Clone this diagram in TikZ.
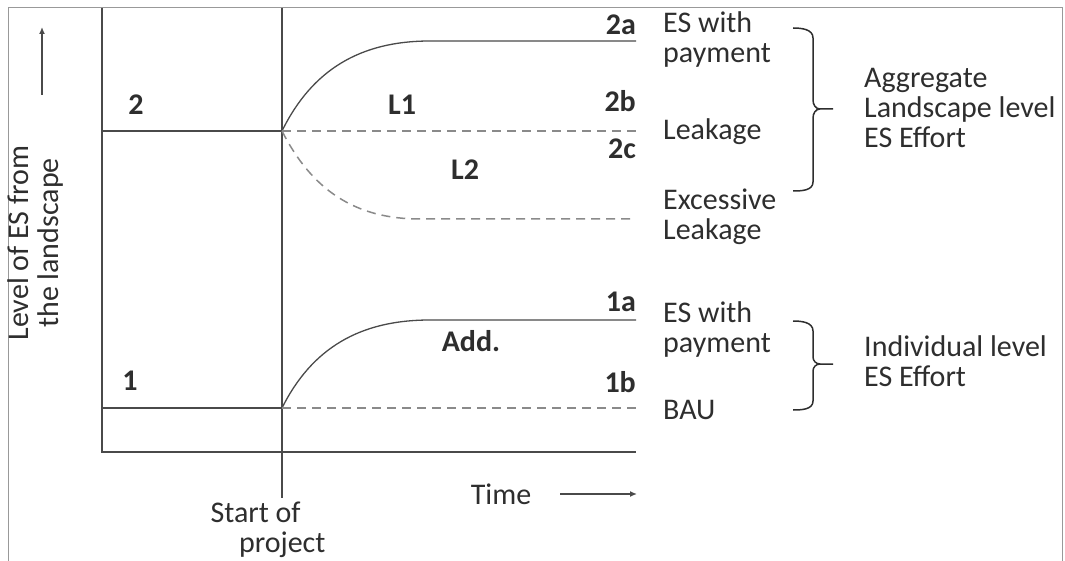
\documentclass[tikz,border=0pt]{standalone}
\usepackage{fontspec}
\setmainfont{Carlito}
\usetikzlibrary{arrows.meta}
\definecolor{linec}{HTML}{4A4A4A}
\definecolor{dashc}{HTML}{8A8A8A}
\definecolor{textc}{HTML}{2E2E2E}
\begin{document}
\begin{tikzpicture}[x=1pt,y=-1pt,
  axis/.style={draw=linec,line width=1.6pt},
  curvesolid/.style={draw=linec,line width=1.3pt},
  curvedash/.style={draw=dashc,line width=1.5pt,dash pattern=on 9pt off 6pt},
  txt/.style={font=\fontsize{30}{30}\selectfont,text=textc,inner sep=0pt},
  lbl/.style={font=\fontsize{30}{30}\selectfont\bfseries,text=textc,inner sep=0pt},
  brc/.style={draw=textc,line width=1.5pt},
  arr/.style={draw=linec,line width=1.5pt,-{Latex[length=7pt,width=6pt]}}]
\useasboundingbox (0,0) rectangle (1065,561);
\draw[draw=gray!80,line width=1pt] (8,8) rectangle (1062,566);
% axes
\coordinate (axT) at (102,8);
\coordinate (axO) at (102,452);
\coordinate (axR) at (636,452);
\coordinate (stT) at (282,8);
\coordinate (stB) at (282,498);
\draw[axis] (axT) -- (axO) -- (axR);
\draw[axis] (stT) -- (stB);
% level 2
\coordinate (l2L) at (102,131);
\coordinate (l2S) at (282,131);
\coordinate (l2aK) at (430,41);
\coordinate (l2aE) at (636,41);
\coordinate (l2bE) at (636,131);
\coordinate (l2cK) at (420,219);
\coordinate (l2cE) at (636,219);
\draw[axis] (l2L) -- (l2S);
\draw[curvesolid] (l2S) .. controls (312,70) and (360,41) .. (l2aK) -- (l2aE);
\draw[curvedash] (l2S) -- (l2bE);
\draw[curvedash] (l2S) .. controls (312,190) and (355,219) .. (l2cK) -- (l2cE);
% level 1
\coordinate (l1L) at (102,408);
\coordinate (l1S) at (282,408);
\coordinate (l1aK) at (430,320);
\coordinate (l1aE) at (636,320);
\coordinate (l1bE) at (636,408);
\draw[axis] (l1L) -- (l1S);
\draw[curvesolid] (l1S) .. controls (312,348) and (360,320) .. (l1aK) -- (l1aE);
\draw[curvedash] (l1S) -- (l1bE);
% arrows
\coordinate (yaB) at (42,95);
\coordinate (yaT) at (42,27);
\draw[arr] (yaB) -- (yaT);
\coordinate (taL) at (560,494);
\coordinate (taR) at (637,494);
\draw[arr] (taL) -- (taR);
% labels
\node[txt,rotate=90,align=center] (ylab) at (36,243) {Level of ES from\\the landscape};
\node[txt] (time) at (501,494) {Time};
\node[txt,align=left] (start) at (268,530) {Start of\\\hspace*{0.95em}project};
\node[lbl] (n2) at (136,105) {2};
\node[lbl] (n1) at (130,381) {1};
\node[lbl] (L1) at (402,105) {L1};
\node[lbl] (L2) at (465,170) {L2};
\node[lbl] (add) at (471,341) {Add.};
\node[lbl,anchor=east] (n2a) at (636,25) {2a};
\node[lbl,anchor=east] (n2b) at (636,101) {2b};
\node[lbl,anchor=east] (n2c) at (636,149) {2c};
\node[lbl,anchor=east] (n1a) at (636,302) {1a};
\node[lbl,anchor=east] (n1b) at (636,382) {1b};
\node[txt,anchor=west,align=left] (esp2) at (663,40) {ES with\\payment};
\node[txt,anchor=west] (leak) at (663,132) {Leakage};
\node[txt,anchor=west,align=left] (exl) at (663,217) {Excessive\\Leakage};
\node[txt,anchor=west,align=left] (esp1) at (663,330) {ES with\\payment};
\node[txt,anchor=west] (bau) at (663,410) {BAU};
\node[txt,anchor=west,align=left] (agg) at (864,108) {Aggregate\\Landscape level\\ES Effort};
\node[txt,anchor=west,align=left] (ind) at (864,361) {Individual level\\ES Effort};
% braces
\draw[brc] (793,28) to[out=0,in=90] (813,38) -- (813,100) to[out=-90,in=180] (820,109) -- (833,109);
\draw[brc] (820,109) to[out=180,in=90] (813,118) -- (813,182) to[out=-90,in=0] (793,191);
\draw[brc] (793,321) to[out=0,in=90] (813,331) -- (813,357) to[out=-90,in=180] (820,364) -- (833,364);
\draw[brc] (820,364) to[out=180,in=90] (813,371) -- (813,401) to[out=-90,in=0] (793,410);
\end{tikzpicture}
\end{document}
